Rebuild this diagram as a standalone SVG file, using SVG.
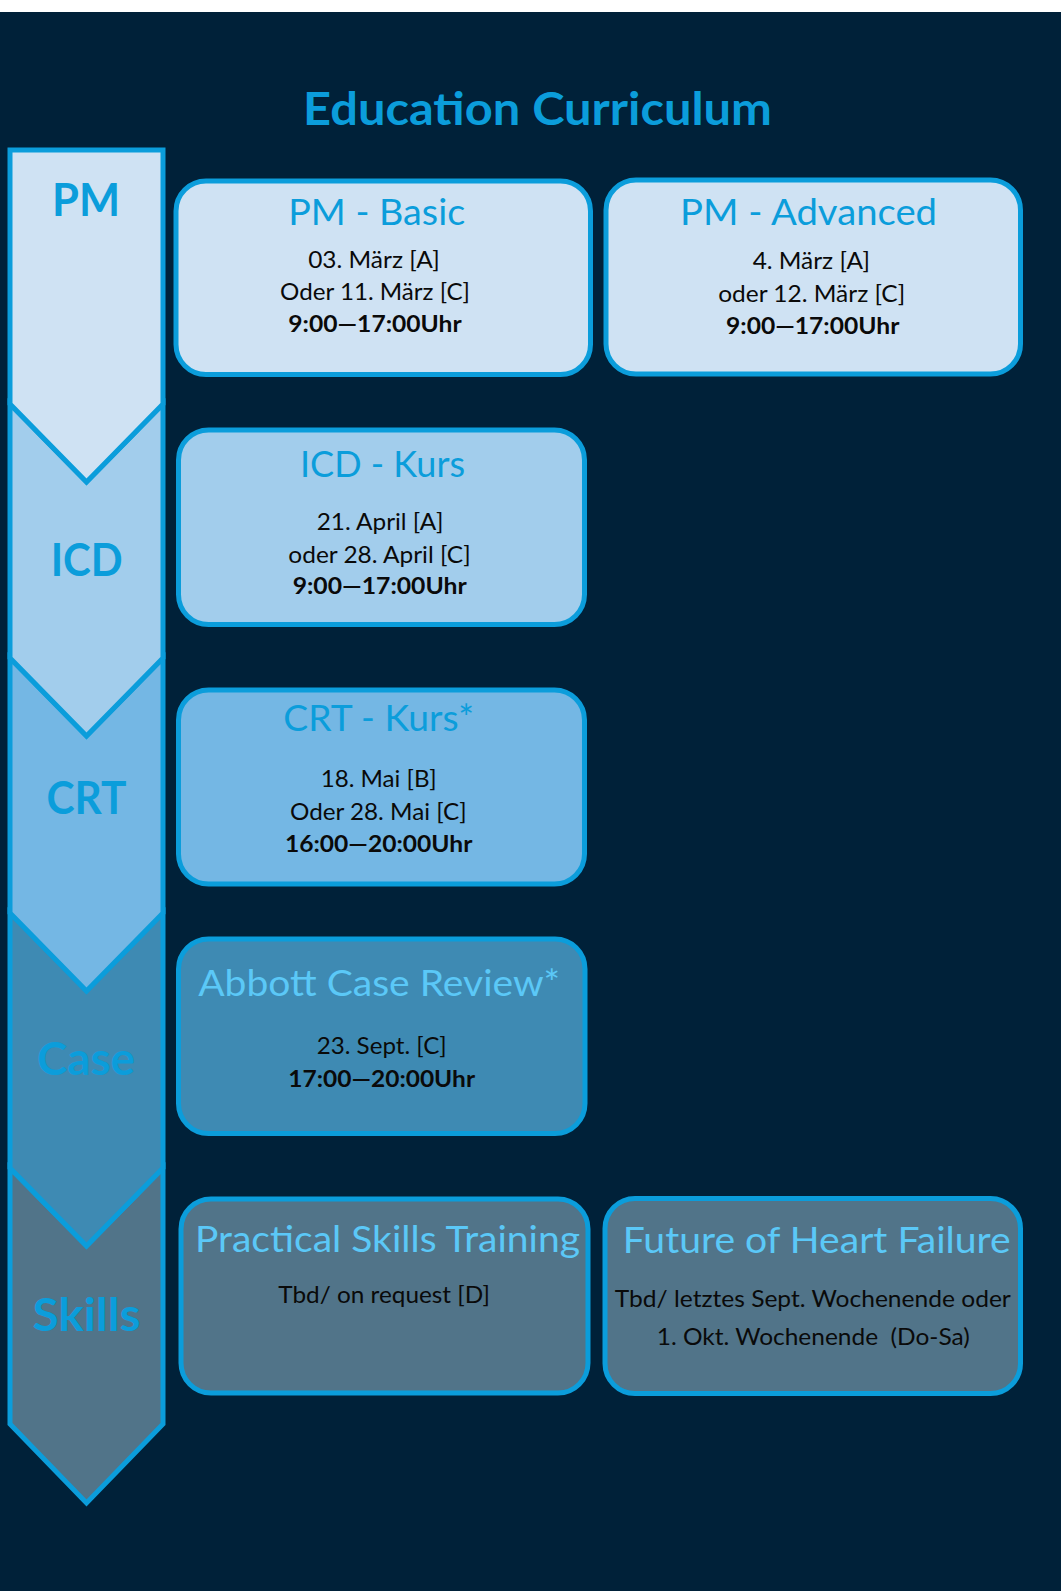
<svg xmlns="http://www.w3.org/2000/svg" width="1061" height="1591" viewBox="0 0 1061 1591">
<style>
.seg{stroke:#0B9DDB;stroke-width:5;stroke-linejoin:miter}
.box{stroke:#0B9DDB;stroke-width:5}
.lbl{font-family:Lato,"Open Sans",sans-serif;font-weight:700;font-size:46px;fill:#0B9DDB;text-anchor:middle}
.ttl{font-family:Lato,"Open Sans",sans-serif;font-size:36px;fill:#0B9DDB;text-anchor:middle}
.ttl2{font-family:Lato,"Open Sans",sans-serif;font-size:36px;fill:#5BC8F7;text-anchor:middle}
.txt{font-family:Lato,"Open Sans",sans-serif;font-size:23.3px;fill:#0A0A0A;text-anchor:middle}
.bld{font-family:Lato,"Open Sans",sans-serif;font-size:23.3px;font-weight:700;fill:#0A0A0A;text-anchor:middle}
</style>
<rect x="0" y="0" width="1061" height="1591" fill="#ffffff"/>
<rect x="0" y="12" width="1061" height="1579" fill="#002139"/>
<text x="537.5" y="125" font-family="Lato,'Open Sans',sans-serif" font-weight="700" font-size="45" fill="#0B9DDB" text-anchor="middle" textLength="469" lengthAdjust="spacingAndGlyphs">Education Curriculum</text>

<g id="timeline">
  <g id="seg-skills">
    <polygon class="seg" fill="#517489" points="10,1168 86.5,1246 163,1168 163,1424 86.5,1503 10,1424"/>
    <text class="lbl" x="86.5" y="1331" textLength="108" lengthAdjust="spacingAndGlyphs">Skills</text>
  </g>
  <g id="seg-case">
    <polygon class="seg" fill="#3E8AB3" points="10,913 86.5,991 163,913 163,1168 86.5,1246 10,1168"/>
    <text class="lbl" x="86" y="1075" textLength="98" lengthAdjust="spacingAndGlyphs">Case</text>
  </g>
  <g id="seg-crt">
    <polygon class="seg" fill="#74B7E4" points="10,658 86.5,736 163,658 163,913 86.5,991 10,913"/>
    <text class="lbl" x="86.5" y="814" textLength="80" lengthAdjust="spacingAndGlyphs">CRT</text>
  </g>
  <g id="seg-icd">
    <polygon class="seg" fill="#A2CDEC" points="10,404 86.5,482 163,404 163,658 86.5,736 10,658"/>
    <text class="lbl" x="86.7" y="576" textLength="72" lengthAdjust="spacingAndGlyphs">ICD</text>
  </g>
  <g id="seg-pm">
    <polygon class="seg" fill="#CFE2F3" points="10,150 163,150 163,404 86.5,482 10,404"/>
    <text class="lbl" x="86" y="216" textLength="68" lengthAdjust="spacingAndGlyphs">PM</text>
  </g>
</g>

<g id="pm-basic">
  <rect class="box" x="176" y="181" width="414.5" height="193.5" rx="30" fill="#CFE2F3"/>
  <text class="ttl" x="376.7" y="225" textLength="177" lengthAdjust="spacingAndGlyphs">PM - Basic</text>
  <text class="txt" x="374" y="268" textLength="131.7" lengthAdjust="spacingAndGlyphs">03. März [A]</text>
  <text class="txt" x="375" y="300" textLength="190" lengthAdjust="spacingAndGlyphs">Oder 11. März [C]</text>
  <text class="bld" x="375" y="332" textLength="173.3" lengthAdjust="spacingAndGlyphs">9:00—17:00Uhr</text>
</g>

<g id="pm-advanced">
  <rect class="box" x="606" y="180" width="414.5" height="194" rx="30" fill="#CFE2F3"/>
  <text class="ttl" x="808.5" y="225" textLength="257" lengthAdjust="spacingAndGlyphs">PM - Advanced</text>
  <text class="txt" x="811.3" y="269" textLength="117.3" lengthAdjust="spacingAndGlyphs">4. März [A]</text>
  <text class="txt" x="811.7" y="302" textLength="187" lengthAdjust="spacingAndGlyphs">oder 12. März [C]</text>
  <text class="bld" x="812.7" y="334" textLength="173.3" lengthAdjust="spacingAndGlyphs">9:00—17:00Uhr</text>
</g>

<g id="icd-kurs">
  <rect class="box" x="178.5" y="430" width="406" height="194.5" rx="30" fill="#A2CDEC"/>
  <text class="ttl" x="382.5" y="476.7" textLength="165" lengthAdjust="spacingAndGlyphs">ICD - Kurs</text>
  <text class="txt" x="380" y="530" textLength="126.7" lengthAdjust="spacingAndGlyphs">21. April [A]</text>
  <text class="txt" x="379.5" y="562.7" textLength="182.3" lengthAdjust="spacingAndGlyphs">oder 28. April [C]</text>
  <text class="bld" x="379.7" y="594.3" textLength="174" lengthAdjust="spacingAndGlyphs">9:00—17:00Uhr</text>
</g>

<g id="crt-kurs">
  <rect class="box" x="178.5" y="690" width="406" height="194" rx="30" fill="#74B7E4"/>
  <text class="ttl" x="378.7" y="730.7" textLength="190.7" lengthAdjust="spacingAndGlyphs">CRT - Kurs*</text>
  <text class="txt" x="378.7" y="786.7" textLength="116" lengthAdjust="spacingAndGlyphs">18. Mai [B]</text>
  <text class="txt" x="378.3" y="820" textLength="176.7" lengthAdjust="spacingAndGlyphs">Oder 28. Mai [C]</text>
  <text class="bld" x="378.7" y="851.7" textLength="187.3" lengthAdjust="spacingAndGlyphs">16:00—20:00Uhr</text>
</g>

<g id="case-review">
  <rect class="box" x="178.5" y="939" width="406.5" height="194.5" rx="30" fill="#3E8AB3"/>
  <text class="ttl2" x="379.2" y="995.7" textLength="362" lengthAdjust="spacingAndGlyphs">Abbott Case Review*</text>
  <text class="txt" x="381.7" y="1054.3" textLength="130" lengthAdjust="spacingAndGlyphs">23. Sept. [C]</text>
  <text class="bld" x="381.7" y="1086.7" textLength="186.7" lengthAdjust="spacingAndGlyphs">17:00—20:00Uhr</text>
</g>

<g id="practical-skills">
  <rect class="box" x="181" y="1199" width="407" height="194" rx="30" fill="#517489"/>
  <text class="ttl2" x="387.5" y="1252.3" textLength="385" lengthAdjust="spacingAndGlyphs">Practical Skills Training</text>
  <text class="txt" x="384.2" y="1302.7" textLength="211.7" lengthAdjust="spacingAndGlyphs">Tbd/ on request [D]</text>
</g>

<g id="future-hf">
  <rect class="box" x="605" y="1198.5" width="415.5" height="195" rx="30" fill="#517489"/>
  <text class="ttl2" x="816.7" y="1252.7" textLength="388" lengthAdjust="spacingAndGlyphs">Future of Heart Failure</text>
  <text class="txt" x="812.8" y="1306.7" textLength="396" lengthAdjust="spacingAndGlyphs">Tbd/ letztes Sept. Wochenende oder</text>
  <text class="txt" x="813.3" y="1345" textLength="313" lengthAdjust="spacingAndGlyphs" xml:space="preserve">1. Okt. Wochenende  (Do-Sa)</text>
</g>
</svg>
